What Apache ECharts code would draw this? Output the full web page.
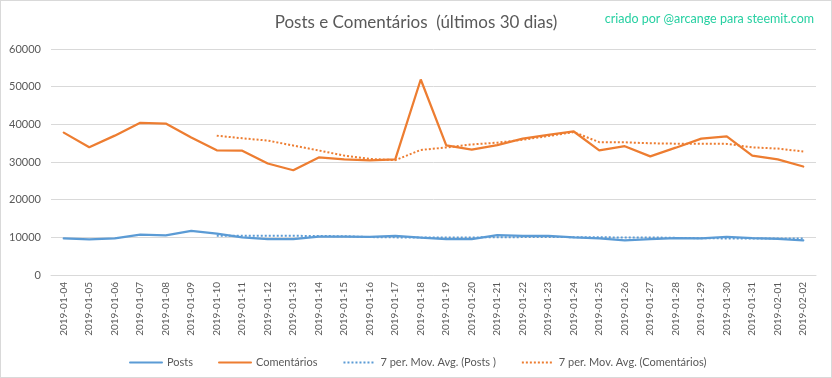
<!DOCTYPE html>
<html>
<head>
<meta charset="utf-8">
<script src="https://cdn.jsdelivr.net/npm/echarts@6/dist/echarts.min.js"></script>
<style>
  html, body { margin: 0; padding: 0; background: #fff; }
  #chart { width: 830px; height: 376px; border: 1px solid #d9d9d9; }
</style>
</head>
<body>
<div id="chart"></div>
<script>
// datas (últimos 30 dias)
const dias = [
  '2019-01-04', '2019-01-05', '2019-01-06', '2019-01-07', '2019-01-08', '2019-01-09',
  '2019-01-10', '2019-01-11', '2019-01-12', '2019-01-13', '2019-01-14', '2019-01-15',
  '2019-01-16', '2019-01-17', '2019-01-18', '2019-01-19', '2019-01-20', '2019-01-21',
  '2019-01-22', '2019-01-23', '2019-01-24', '2019-01-25', '2019-01-26', '2019-01-27',
  '2019-01-28', '2019-01-29', '2019-01-30', '2019-01-31', '2019-02-01', '2019-02-02'
]
const posts = [
  9700, 9450, 9700, 10700, 10500, 11700, 11000, 10000, 9500, 9500,
  10200, 10200, 10100, 10400, 9900, 9500, 9500, 10600, 10400, 10400,
  10000, 9700, 9200, 9500, 9800, 9700, 10100, 9800, 9600, 9200
]
const comentarios = [
  37800, 33900, 37000, 40400, 40200, 36500, 33100, 33000, 29600, 27800,
  31200, 30700, 30400, 30700, 51900, 34400, 33300, 34500, 36200, 37200,
  38100, 33100, 34200, 31500, 33800, 36200, 36800, 31700, 30700, 28800
]
// médias móveis (começam no 7º dia)
const mmPosts = [
  null, null, null, null, null, null, 10390, 10440, 10440, 10410,
  10340, 10300, 10070, 9990, 9970, 9970, 9970, 10030, 10060, 10100,
  10040, 10010, 9970, 9970, 9860, 9760, 9710, 9690, 9670, 9670
]
const mmComentarios = [
  null, null, null, null, null, null, 36990, 36300, 35690, 34370,
  33060, 31700, 30830, 30490, 33190, 33870, 34660, 35130, 35910, 36890,
  37940, 35260, 35230, 34970, 34870, 34870, 34810, 33900, 33560, 32790
]
const yTicks = [0, 10000, 20000, 30000, 40000, 50000, 60000]

const AZUL = '#5b9bd5'
const LARANJA = '#ed7d31'

const chart = echarts.init(document.getElementById('chart'))

function serie(name, data, color, dotted) {
  return {
    name, type: 'line', data,
    symbol: 'none',
    connectNulls: false,
    lineStyle: dotted
      ? { color, width: 2, type: [2, 2], cap: 'butt' }
      : { color, width: 2.25, type: 'solid', cap: 'round' },
    itemStyle: { color },
    z: dotted ? 3 : 2
  }
}

chart.setOption({
  animation: false,
  textStyle: { fontFamily: 'Lato, "Open Sans", sans-serif' },
  title: [{
    text: 'Posts e Comentários  (últimos 30 dias)',
    left: 'center', top: 8,
    textStyle: { color: '#595959', fontSize: 17, fontWeight: 'normal', fontFamily: 'Lato, sans-serif' }
  }, {
    text: 'criado por @arcange para steemit.com',
    right: 12, top: 6,
    textStyle: { color: '#27d0a2', fontSize: 12.5, fontWeight: 'normal', fontFamily: 'Lato, sans-serif' }
  }],
  legend: {
    left: 123, top: 351,
    itemWidth: 32, itemHeight: 10, itemGap: 25,
    itemStyle: { opacity: 0 },
    textStyle: { color: '#595959', fontSize: 11 },
    data: ['Posts', 'Comentários', '7 per. Mov. Avg. (Posts )', '7 per. Mov. Avg. (Comentários)']
  },
  grid: { left: 50, right: 15, top: 48, bottom: 102, containLabel: false },
  xAxis: {
    type: 'category', data: dias, boundaryGap: true,
    axisLine: { lineStyle: { color: '#d9d9d9' } },
    axisTick: { show: false },
    axisLabel: { rotate: 90, color: '#595959', fontSize: 10, margin: 7, interval: 0 }
  },
  yAxis: {
    type: 'value', min: yTicks[0], max: yTicks[yTicks.length - 1], interval: 10000,
    axisLine: { show: false }, axisTick: { show: false },
    splitLine: { lineStyle: { color: '#d9d9d9' } },
    axisLabel: { color: '#595959', fontSize: 11, margin: 10, formatter: v => String(v) }
  },
  series: [
    serie('Posts', posts, AZUL, false),
    serie('Comentários', comentarios, LARANJA, false),
    serie('7 per. Mov. Avg. (Posts )', mmPosts, AZUL, true),
    serie('7 per. Mov. Avg. (Comentários)', mmComentarios, LARANJA, true)
  ]
})
</script>
</body>
</html>
